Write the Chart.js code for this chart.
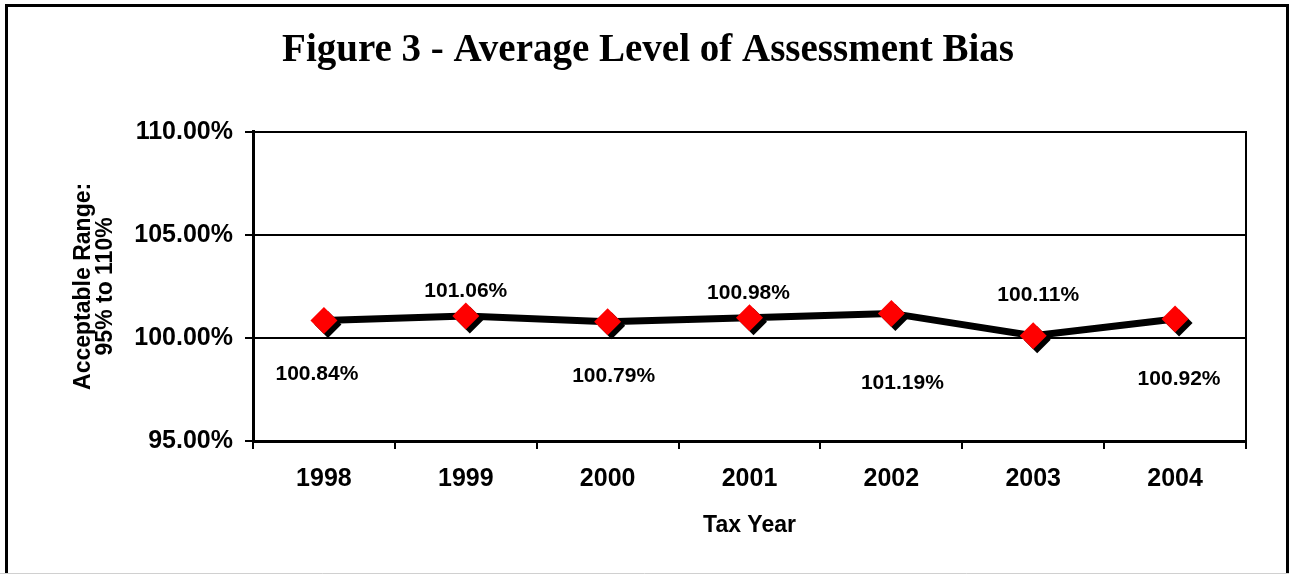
<!DOCTYPE html>
<html>
<head>
<meta charset="utf-8">
<script src="https://cdn.jsdelivr.net/npm/chart.js@4.4.1/dist/chart.umd.min.js"></script>
<style>
    html, body { margin: 0; padding: 0; background: #fff; }
    #wrap { width: 1289px; height: 574px; }
</style>
</head>
<body>
<div id="wrap"><canvas id="biasChart" width="1289" height="574"></canvas></div>
<script>
    var taxYears = ['1998', '1999', '2000', '2001', '2002', '2003', '2004'];
    var biasLevels = [100.84, 101.06, 100.79, 100.98, 101.19, 100.11, 100.92];
    var yTickValues = [95, 100, 105, 110];

    var sansFont = '"Liberation Sans", Arial, sans-serif';

    // white page + the frame drawn round the whole figure
    var framePlugin = {
        id: 'frame',
        beforeDraw: function (chart) {
            var ctx = chart.ctx;
            ctx.save();
            ctx.fillStyle = '#fff';
            ctx.fillRect(0, 0, chart.width, chart.height);
            ctx.restore();
        },
        afterDraw: function (chart) {
            var ctx = chart.ctx;
            ctx.save();
            ctx.strokeStyle = '#000';
            ctx.lineWidth = 3;
            ctx.beginPath();
            ctx.moveTo(6.5, chart.height);
            ctx.lineTo(6.5, 5.5);
            ctx.lineTo(chart.width - 1.5, 5.5);
            ctx.lineTo(chart.width - 1.5, chart.height);
            ctx.stroke();
            ctx.strokeStyle = '#d0d0d0';
            ctx.lineWidth = 1;
            ctx.beginPath();
            ctx.moveTo(0, chart.height - 0.5);
            ctx.lineTo(chart.width, chart.height - 0.5);
            ctx.stroke();
            ctx.restore();
        }
    };

    // black drop shadow under the diamond markers
    var shadowPlugin = {
        id: 'markerShadow',
        beforeDatasetDraw: function (chart, args) {
            if (!chart.data.datasets[args.index].shadow) {
                return;
            }
            var ctx = chart.ctx;
            ctx.save();
            ctx.shadowColor = '#000';
            ctx.shadowOffsetX = 4;
            ctx.shadowOffsetY = 4;
            ctx.shadowBlur = 0;
        },
        afterDatasetDraw: function (chart, args) {
            if (!chart.data.datasets[args.index].shadow) {
                return;
            }
            chart.ctx.restore();
        }
    };

    // value labels, moved off the points like in the original
    var valueLabelPlugin = {
        id: 'valueLabels',
        afterDatasetsDraw: function (chart, args, opts) {
            var ctx = chart.ctx;
            var meta = chart.getDatasetMeta(0);
            ctx.save();
            ctx.font = 'bold 21px ' + sansFont;
            ctx.fillStyle = '#000';
            ctx.textAlign = 'center';
            ctx.textBaseline = 'middle';
            meta.data.forEach(function (pt, i) {
                var off = opts.offsets[i] || [0, 0];
                ctx.fillText(biasLevels[i].toFixed(2) + '%', pt.x + off[0], pt.y + off[1]);
            });
            ctx.restore();
        }
    };

    var ctx = document.getElementById('biasChart').getContext('2d');

    var biasChart = new Chart(ctx, {
        type: 'line',
        data: {
            labels: taxYears,
            datasets: [{
                label: 'markers',
                data: biasLevels,
                shadow: true,
                showLine: false,
                pointStyle: 'rectRot',
                pointRadius: 13.5,
                pointBackgroundColor: '#ff0000',
                pointBorderColor: '#ff0000',
                pointBorderWidth: 0
            }, {
                label: 'Average Level',
                data: biasLevels,
                borderColor: '#000',
                borderWidth: 7,
                tension: 0,
                fill: false,
                pointRadius: 0
            }]
        },
        options: {
            responsive: false,
            animation: false,
            layout: {
                padding: { left: 7, top: 0, right: 0, bottom: 0 }
            },
            plugins: {
                legend: { display: false },
                tooltip: { enabled: false },
                title: {
                    display: true,
                    text: 'Figure 3 - Average Level of Assessment Bias',
                    color: '#000',
                    font: { family: '"Liberation Serif", "Times New Roman", serif', size: 39, weight: 'bold', lineHeight: 1.2 },
                    padding: { top: 28, bottom: 57 }
                },
                valueLabels: {
                    offsets: [[-7, 54], [0, -25], [6, 55], [-1, -25], [11, 70], [5, -40], [4, 60]]
                }
            },
            scales: {
                x: {
                    type: 'category',
                    offset: true,
                    grid: {
                        offset: true,
                        drawOnChartArea: false,
                        drawTicks: true,
                        tickLength: 8,
                        color: '#000',
                        lineWidth: 2
                    },
                    border: { display: true, color: '#000', width: 3 },
                    ticks: {
                        color: '#000',
                        padding: 15,
                        maxRotation: 0,
                        font: { family: sansFont, size: 25, weight: 'bold' }
                    },
                    title: {
                        display: true,
                        text: 'Tax Year',
                        color: '#000',
                        font: { family: sansFont, size: 23, weight: 'bold', lineHeight: 1.2 },
                        padding: { top: 0, bottom: 35 }
                    },
                    afterFit: function (scale) {
                        scale.height = 133;
                    }
                },
                y: {
                    min: 95,
                    max: 110,
                    afterBuildTicks: function (scale) {
                        scale.ticks = yTickValues.map(function (v) { return { value: v }; });
                    },
                    grid: {
                        color: '#000',
                        lineWidth: 2,
                        drawTicks: true,
                        tickLength: 8
                    },
                    border: { display: true, color: '#000', width: 3 },
                    ticks: {
                        color: '#000',
                        padding: 12,
                        font: { family: sansFont, size: 25, weight: 'bold' },
                        callback: function (value) {
                            return value.toFixed(2) + '%';
                        }
                    },
                    title: {
                        display: true,
                        text: ['Acceptable Range:', '95% to 110%'],
                        color: '#000',
                        font: { family: sansFont, size: 23, weight: 'bold', lineHeight: 0.95 },
                        padding: { top: 66, bottom: 0 }
                    },
                    afterFit: function (scale) {
                        scale.width = 246;
                    }
                },
                yRight: {
                    position: 'right',
                    display: true,
                    grid: { display: false, drawTicks: false },
                    border: { display: true, color: '#000', width: 2 },
                    ticks: { display: false },
                    afterFit: function (scale) {
                        scale.width = 43;
                    }
                }
            }
        },
        plugins: [framePlugin, shadowPlugin, valueLabelPlugin]
    });
</script>
</body>
</html>
